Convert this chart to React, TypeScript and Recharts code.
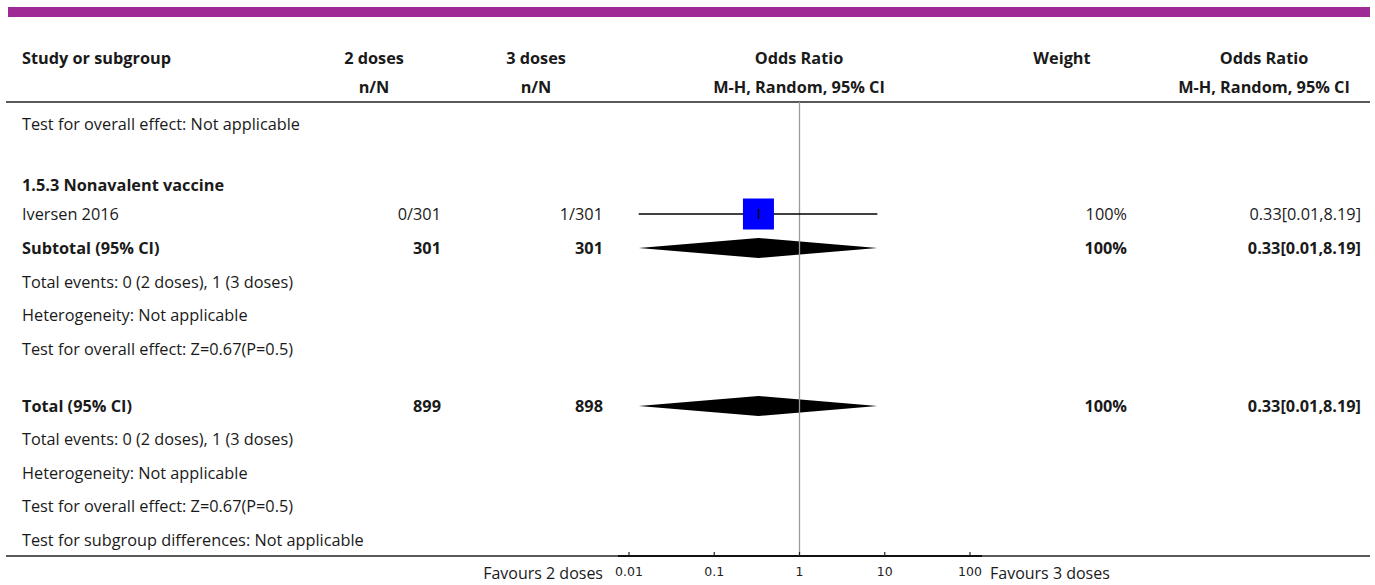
import {
  ScatterChart,
  Scatter,
  XAxis,
  YAxis,
  ErrorBar,
  ReferenceLine,
  ReferenceArea,
  Customized,
} from 'recharts';

// ---- data ----
const studyNames = ['Iversen 2016'];
const studyEvents2 = ['0/301'];
const studyEvents3 = ['1/301'];
const studyOR = [0.33];
const studyLow = [0.013];
const studyHigh = [8.19];
const studyWeight = [100];

const pooledNames = ['Subtotal (95% CI)', 'Total (95% CI)'];
const pooledN2 = [301, 899];
const pooledN3 = [301, 898];
const pooledOR = [0.33, 0.33];
const pooledLow = [0.013, 0.013];
const pooledHigh = [8.19, 8.19];
const pooledWeight = [100, 100];

const axisTicks = [0.01, 0.1, 1, 10, 100];
const favoursLeft = 'Favours 2 doses';
const favoursRight = 'Favours 3 doses';

// ---- layout (row centres in px) ----
const W = 1375;
const H = 585;
const PLOT_LEFT = 629;
const PLOT_RIGHT = 970;
const HEAD_LINE = 102;
const AXIS_Y = 556;

const ROW = {
  testNA: 124,
  group: 185,
  study: 214,
  subtotal: 248,
  subEvents: 282,
  subHet: 315,
  subTest: 349,
  total: 406,
  totEvents: 439,
  totHet: 473,
  totTest: 506,
  subgroupDiff: 540,
};

const COL = {
  label: 22,
  n2Right: 441,
  n2Head: 374,
  n3Right: 603,
  n3Head: 536,
  plotHead: 799,
  weightRight: 1127,
  weightHead: 1062,
  orRight: 1361,
  orHead: 1264,
};

const FONT = '"Open Sans", "Noto Sans", sans-serif';
const FS = 16.3;
const TXT = '#1a1a1a';
const SQUARE_MAX = 31;
const DIAMOND_HALF = 10;

const fmt = (or: number, lo: number, hi: number) =>
  `${or.toFixed(2)}[${lo.toFixed(2)},${hi.toFixed(2)}]`;

const studyData = studyNames.map((name, i) => ({
  name,
  or: studyOR[i],
  row: ROW.study,
  w: studyWeight[i],
  ci: [studyOR[i] - studyLow[i], studyHigh[i] - studyOR[i]],
}));

const pooledRows = [ROW.subtotal, ROW.total];

function StudySquare(props: any) {
  const { cx, cy, payload } = props;
  const s = SQUARE_MAX * Math.sqrt(payload.w / 100);
  return (
    <g>
      <rect x={cx - s / 2} y={cy - s / 2} width={s} height={s} fill="#0000ff" />
      <line x1={cx} x2={cx} y1={cy - 5} y2={cy + 5} stroke="#000" strokeWidth={1.4} />
    </g>
  );
}

function makeDiamond(or: number, lo: number, hi: number) {
  const frac = (Math.log(or) - Math.log(lo)) / (Math.log(hi) - Math.log(lo));
  return (props: any) => {
    const { x, y, width, height } = props;
    const cy = y + height / 2;
    const apex = x + frac * width;
    const pts = `${x},${cy} ${apex},${cy - DIAMOND_HALF} ${x + width},${cy} ${apex},${cy + DIAMOND_HALF}`;
    return <polygon points={pts} fill="#000" />;
  };
}

function AxisTick(props: any) {
  const { x, y, payload } = props;
  return (
    <g>
      <line x1={x} x2={x} y1={y - 4} y2={y} stroke="#222" strokeWidth={1.2} />
      <text
        x={x}
        y={y + 20}
        textAnchor="middle"
        fontSize={12.5}
        fontFamily="DejaVu Sans"
        fill="#222"
      >
        {String(payload.value)}
      </text>
    </g>
  );
}

function T(p: {
  x: number;
  y: number;
  children: any;
  bold?: boolean;
  size?: number;
  anchor?: 'start' | 'middle' | 'end';
}) {
  return (
    <text
      x={p.x}
      y={p.y}
      dy="0.35em"
      textAnchor={p.anchor || 'start'}
      fontFamily={FONT}
      fontSize={p.size || FS}
      fontWeight={p.bold ? 700 : 400}
      fill={TXT}
    >
      {p.children}
    </text>
  );
}

function TableLayer() {
  const notes = (rows: number[]) => [
    <T key="e" x={COL.label} y={rows[0]}>Total events: 0 (2 doses), 1 (3 doses)</T>,
    <T key="h" x={COL.label} y={rows[1]}>Heterogeneity: Not applicable</T>,
    <T key="t" x={COL.label} y={rows[2]}>Test for overall effect: Z=0.67(P=0.5)</T>,
  ];
  return (
    <g>
      <rect x={8} y={7} width={1362} height={10} fill="#9e2a96" />

      <T x={COL.label} y={58} bold>Study or subgroup</T>
      <T x={COL.n2Head} y={58} bold anchor="middle">2 doses</T>
      <T x={COL.n2Head} y={87} bold anchor="middle">n/N</T>
      <T x={COL.n3Head} y={58} bold anchor="middle">3 doses</T>
      <T x={COL.n3Head} y={87} bold anchor="middle">n/N</T>
      <T x={COL.plotHead} y={58} bold anchor="middle">Odds Ratio</T>
      <T x={COL.plotHead} y={87} bold anchor="middle">M-H, Random, 95% CI</T>
      <T x={COL.weightHead} y={58} bold anchor="middle">Weight</T>
      <T x={COL.orHead} y={58} bold anchor="middle">Odds Ratio</T>
      <T x={COL.orHead} y={87} bold anchor="middle">M-H, Random, 95% CI</T>
      <line x1={6} x2={1370} y1={HEAD_LINE} y2={HEAD_LINE} stroke="#222" strokeWidth={1.5} />

      <T x={COL.label} y={ROW.testNA}>Test for overall effect: Not applicable</T>
      <T x={COL.label} y={ROW.group} bold>1.5.3 Nonavalent vaccine</T>

      {studyNames.map((n, i) => (
        <g key={n}>
          <T x={COL.label} y={ROW.study}>{n}</T>
          <T x={COL.n2Right} y={ROW.study} anchor="end">{studyEvents2[i]}</T>
          <T x={COL.n3Right} y={ROW.study} anchor="end">{studyEvents3[i]}</T>
          <T x={COL.weightRight} y={ROW.study} anchor="end">{studyWeight[i]}%</T>
          <T x={COL.orRight} y={ROW.study} anchor="end">
            {fmt(studyOR[i], studyLow[i], studyHigh[i])}
          </T>
        </g>
      ))}

      {pooledNames.map((n, i) => (
        <g key={n}>
          <T x={COL.label} y={pooledRows[i]} bold>{n}</T>
          <T x={COL.n2Right} y={pooledRows[i]} bold anchor="end">{pooledN2[i]}</T>
          <T x={COL.n3Right} y={pooledRows[i]} bold anchor="end">{pooledN3[i]}</T>
          <T x={COL.weightRight} y={pooledRows[i]} bold anchor="end">{pooledWeight[i]}%</T>
          <T x={COL.orRight} y={pooledRows[i]} bold anchor="end">
            {fmt(pooledOR[i], pooledLow[i], pooledHigh[i])}
          </T>
        </g>
      ))}

      {notes([ROW.subEvents, ROW.subHet, ROW.subTest])}
      {notes([ROW.totEvents, ROW.totHet, ROW.totTest])}
      <T x={COL.label} y={ROW.subgroupDiff}>Test for subgroup differences: Not applicable</T>

      <line x1={6} x2={1370} y1={AXIS_Y} y2={AXIS_Y} stroke="#222" strokeWidth={1.5} />
      <line x1={618} x2={982} y1={AXIS_Y} y2={AXIS_Y} stroke="#111" strokeWidth={2} />

      <T x={603} y={573} anchor="end" size={16}>{favoursLeft}</T>
      <T x={990} y={573} size={16}>{favoursRight}</T>
    </g>
  );
}

export default function App() {
  return (
    <div style={{ position: 'absolute', left: 0, top: 0, width: W, height: H, background: '#fff' }}>
      <ScatterChart
        width={W}
        height={H}
        margin={{ top: HEAD_LINE, right: W - PLOT_RIGHT, bottom: 0, left: PLOT_LEFT }}
      >
        <Customized component={TableLayer} />
        <XAxis
          type="number"
          dataKey="or"
          scale="log"
          domain={[0.01, 100]}
          ticks={axisTicks}
          allowDataOverflow
          axisLine={false}
          tickLine={false}
          tickSize={0}
          tickMargin={0}
          height={H - AXIS_Y}
          tick={<AxisTick />}
          interval={0}
        />
        <YAxis type="number" dataKey="row" domain={[HEAD_LINE, AXIS_Y]} reversed hide width={0} />
        <ReferenceLine x={1} stroke="#9a9a9a" strokeWidth={1.3} ifOverflow="visible" />
        {pooledNames.map((n, i) => (
          <ReferenceArea
            key={n}
            x1={pooledLow[i]}
            x2={pooledHigh[i]}
            y1={pooledRows[i] - DIAMOND_HALF}
            y2={pooledRows[i] + DIAMOND_HALF}
            ifOverflow="visible"
            shape={makeDiamond(pooledOR[i], pooledLow[i], pooledHigh[i])}
          />
        ))}
        <Scatter data={studyData} shape={<StudySquare />} isAnimationActive={false}>
          <ErrorBar dataKey="ci" direction="x" width={0} stroke="#000" strokeWidth={1.4} />
        </Scatter>
      </ScatterChart>
    </div>
  );
}
